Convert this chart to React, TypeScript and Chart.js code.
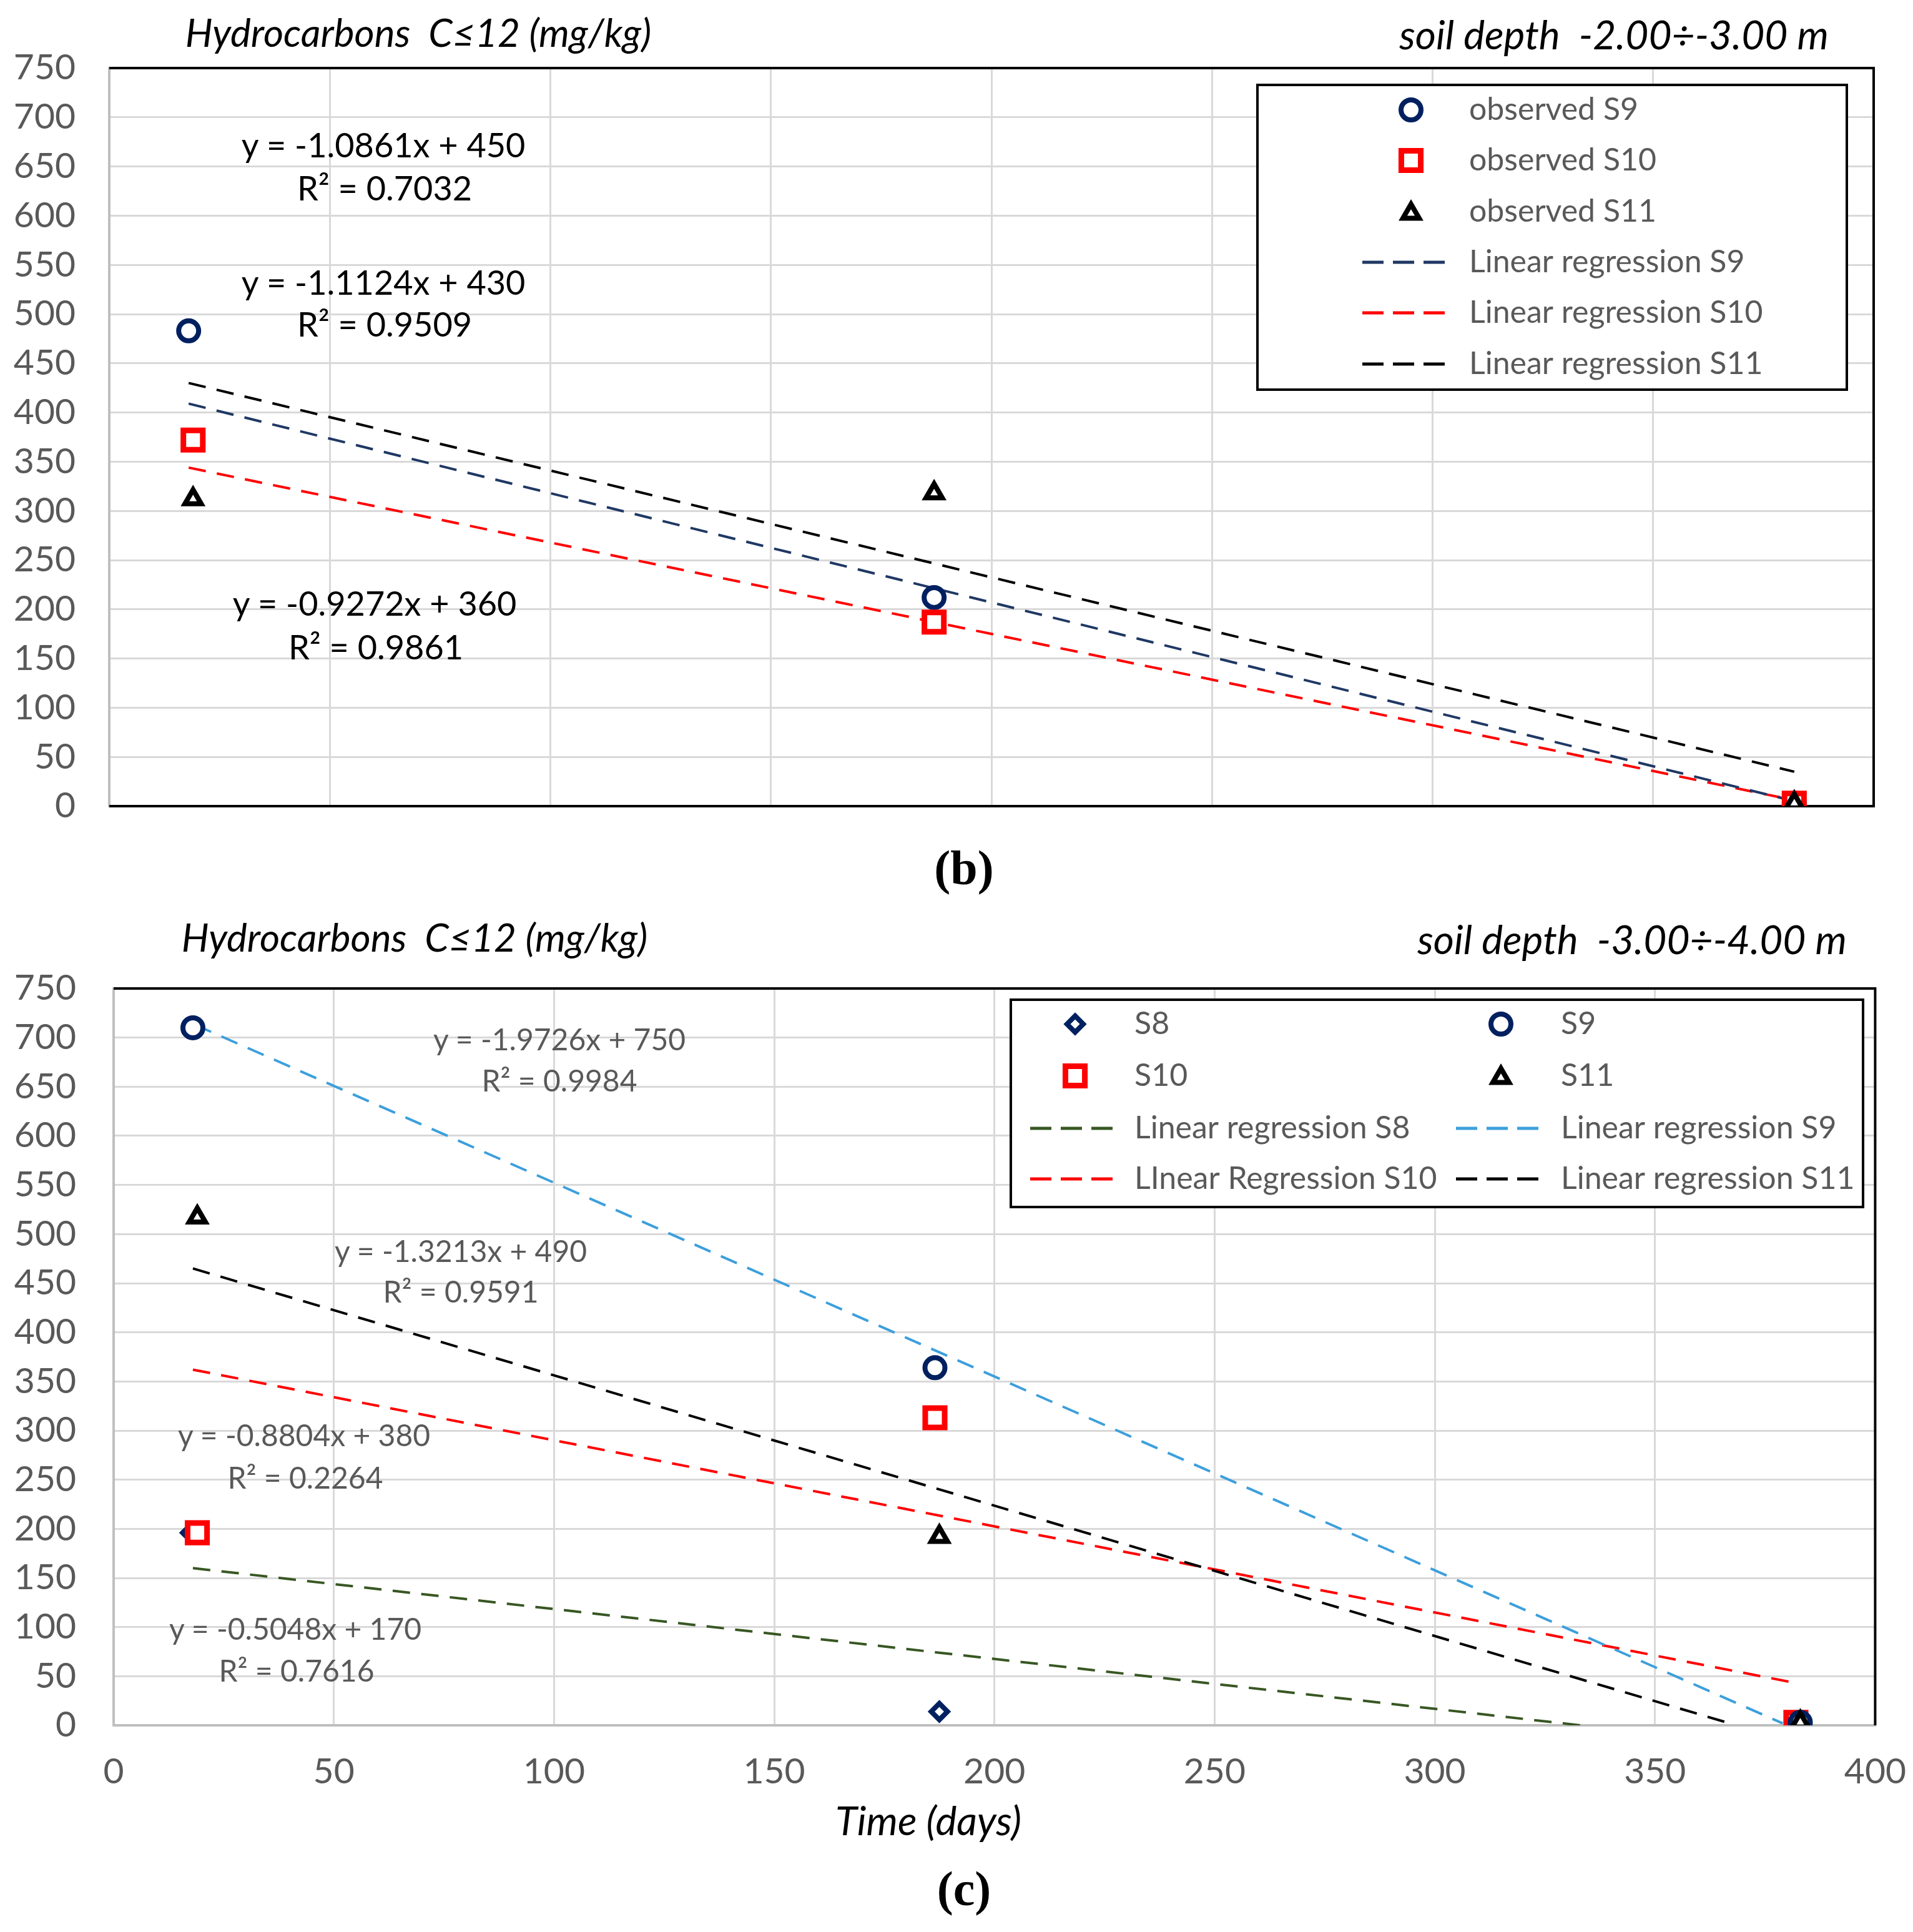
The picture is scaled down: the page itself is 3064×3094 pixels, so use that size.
import React, { useEffect, useRef } from 'react';
import { Chart, registerables } from 'chart.js';

Chart.register(...registerables);

// ---------------- DATA ----------------
// Panel (b): soil depth -2.00 ÷ -3.00 m
const xS9B = [18, 187, 382];
const obsS9B = [483, 212, 3];
const xS10B = [19, 187, 382];
const obsS10B = [372, 187, 3];
const xS11B = [19, 187, 382];
const obsS11B = [312, 318, 3];
const trendXB = [18, 382];
const trendS9B = [409, 5];
const trendS10B = [344, 6];
const trendS11B = [430, 35];

// Panel (c): soil depth -3.00 ÷ -4.00 m
const xS8C = [17.5, 187.5, 383];
const obsS8C = [196, 14, 3];
const xS9C = [18, 186.5, 383];
const obsS9C = [710, 364, 3];
const xS10C = [19, 186.5, 382];
const obsS10C = [196, 313, 3];
const xS11C = [19, 187.5, 383];
const obsS11C = [517, 192, 3];
const trendS8CX = [18, 333];
const trendS8C = [160, 0];
const trendS9CX = [18.5, 379];
const trendS9C = [713, 2];
const trendS10CX = [18, 382];
const trendS10C = [362, 43];
const trendS11CX = [18, 367];
const trendS11C = [465, 2];

const yTicks = [0, 750, 50];
const xTicks = [0, 400, 50];

const eqB = [
  ['y = -1.0861x + 450', 'R\u00B2 = 0.7032'],
  ['y = -1.1124x + 430', 'R\u00B2 = 0.9509'],
  ['y = -0.9272x + 360', 'R\u00B2 = 0.9861'],
];
const eqC = [
  ['y = -1.9726x + 750', 'R\u00B2 = 0.9984'],
  ['y = -1.3213x + 490', 'R\u00B2 = 0.9591'],
  ['y = -0.8804x + 380', 'R\u00B2 = 0.2264'],
  ['y = -0.5048x + 170', 'R\u00B2 = 0.7616'],
];

// ---------------- STYLES ----------------
const FONT = 'Lato, "Open Sans", sans-serif';
const TICK_COLOR = '#595959';
const GRID = '#d9d9d9';
const AXIS_GRAY = '#bfbfbf';
const NAVY = '#002060';
const RED = '#ff0000';
const DARKBLUE_LINE = '#1f3864';
const LIGHTBLUE_LINE = '#3d9fdc';
const GREEN_LINE = '#385723';

type Mk = { style: string; r: number; bw: number; color: string; fill: string };
const MK_S9: Mk = { style: 'circle', r: 16, bw: 8, color: NAVY, fill: '#ffffff' };
const MK_S10: Mk = { style: 'rect', r: 22, bw: 9, color: RED, fill: '#ffffff' };
const MK_S11: Mk = { style: 'triangle', r: 15, bw: 8, color: '#000000', fill: '#ffffff' };
const MK_S8: Mk = { style: 'rectRot', r: 13, bw: 8, color: NAVY, fill: '#ffffff' };

function drawMarker(ctx: CanvasRenderingContext2D, m: Mk, x: number, y: number) {
  ctx.save();
  ctx.beginPath();
  ctx.lineWidth = m.bw;
  ctx.strokeStyle = m.color;
  ctx.fillStyle = m.fill;
  ctx.setLineDash([]);
  const r = m.r;
  if (m.style === 'circle') {
    ctx.arc(x, y, r, 0, Math.PI * 2);
  } else if (m.style === 'rect') {
    const s = r * Math.SQRT1_2;
    ctx.rect(x - s, y - s, 2 * s, 2 * s);
  } else if (m.style === 'triangle') {
    let rad = 0;
    ctx.moveTo(x + Math.sin(rad) * r, y - Math.cos(rad) * r);
    rad += (2 * Math.PI) / 3;
    ctx.lineTo(x + Math.sin(rad) * r, y - Math.cos(rad) * r);
    rad += (2 * Math.PI) / 3;
    ctx.lineTo(x + Math.sin(rad) * r, y - Math.cos(rad) * r);
  } else if (m.style === 'rectRot') {
    ctx.moveTo(x - r, y);
    ctx.lineTo(x, y - r);
    ctx.lineTo(x + r, y);
    ctx.lineTo(x, y + r);
  }
  ctx.closePath();
  ctx.fill();
  ctx.stroke();
  ctx.restore();
}

function drawDash(ctx: CanvasRenderingContext2D, x1: number, x2: number, y: number, color: string) {
  ctx.save();
  ctx.strokeStyle = color;
  ctx.lineWidth = 5;
  ctx.setLineDash([34, 15]);
  ctx.beginPath();
  ctx.moveTo(x1, y);
  ctx.lineTo(x2, y);
  ctx.stroke();
  ctx.restore();
}

function pts(xs: number[], ys: number[], m: Mk) {
  return {
    data: xs.map((x, i) => ({ x, y: ys[i] })),
    showLine: false,
    pointStyle: m.style,
    pointRadius: m.r,
    pointBorderWidth: m.bw,
    pointBorderColor: m.color,
    pointBackgroundColor: m.fill,
    pointHoverRadius: m.r,
  };
}

function trend(xs: number[], ys: number[], color: string) {
  return {
    data: xs.map((x, i) => ({ x, y: ys[i] })),
    showLine: true,
    borderColor: color,
    borderWidth: 4,
    borderDash: [28, 18],
    pointRadius: 0,
    pointHoverRadius: 0,
    fill: false,
  };
}

function framePlugin(bottom: boolean) {
  return {
    id: 'frame',
    beforeDatasetsDraw(chart: any) {
      const { ctx, chartArea: a } = chart;
      ctx.save();
      ctx.strokeStyle = '#000';
      ctx.lineWidth = 4;
      ctx.beginPath();
      ctx.moveTo(a.left, a.top);
      ctx.lineTo(a.right, a.top);
      ctx.lineTo(a.right, a.bottom);
      if (bottom) ctx.lineTo(a.left, a.bottom);
      ctx.stroke();
      ctx.restore();
    },
  };
}

function baseOptions(opts: {
  padTop: number; padRight: number; padBottom: number;
  yWidth: number; yPad: number; xHeight: number; xTicks: boolean; xBorder: string; xPad: number;
}) {
  return {
    animation: false,
    responsive: false,
    maintainAspectRatio: false,
    devicePixelRatio: 1,
    events: [],
    layout: {
      autoPadding: false,
      padding: { top: opts.padTop, right: opts.padRight, bottom: opts.padBottom, left: 0 },
    },
    plugins: { legend: { display: false }, tooltip: { enabled: false } },
    scales: {
      x: {
        type: 'linear',
        min: xTicks[0],
        max: xTicks[1],
        ticks: {
          stepSize: xTicks[2],
          display: opts.xTicks,
          font: { family: FONT, size: 57 },
          color: TICK_COLOR,
          padding: opts.xPad,
          maxRotation: 0,
        },
        grid: { color: GRID, lineWidth: 3, drawTicks: false },
        border: { color: opts.xBorder, width: 4 },
        afterFit(scale: any) {
          scale.height = opts.xHeight;
        },
      },
      y: {
        type: 'linear',
        min: yTicks[0],
        max: yTicks[1],
        ticks: {
          stepSize: yTicks[2],
          font: { family: FONT, size: 57 },
          color: TICK_COLOR,
          padding: opts.yPad,
        },
        grid: { color: GRID, lineWidth: 3, drawTicks: false },
        border: { color: AXIS_GRAY, width: 4 },
        afterFit(scale: any) {
          scale.width = opts.yWidth;
        },
      },
    },
  };
}

// ---------------- PANEL B ----------------
const B_W = 3064;
const B_H = 1420;

const legendBPlugin = {
  id: 'legendB',
  afterDraw(chart: any) {
    const ctx: CanvasRenderingContext2D = chart.ctx;
    const L = 2014, T = 136, R = 2958, Bm = 624;
    ctx.save();
    ctx.fillStyle = '#fff';
    ctx.fillRect(L, T, R - L, Bm - T);
    ctx.strokeStyle = '#000';
    ctx.lineWidth = 4;
    ctx.strokeRect(L, T, R - L, Bm - T);
    const rows = [176, 257, 339, 420, 501, 583];
    const mx = 2260, tx = 2353;
    drawMarker(ctx, MK_S9, mx, rows[0]);
    drawMarker(ctx, MK_S10, mx, rows[1]);
    drawMarker(ctx, MK_S11, mx, rows[2] + 3);
    drawDash(ctx, 2182, 2315, rows[3], DARKBLUE_LINE);
    drawDash(ctx, 2182, 2315, rows[4], RED);
    drawDash(ctx, 2182, 2315, rows[5], '#000');
    const labels = ['observed S9', 'observed S10', 'observed S11', 'Linear regression S9', 'Linear regression S10', 'Linear regression S11'];
    ctx.fillStyle = TICK_COLOR;
    ctx.font = `50px ${FONT}`;
    ctx.textBaseline = 'middle';
    ctx.textAlign = 'left';
    labels.forEach((t, i) => ctx.fillText(t, tx, rows[i]));
    ctx.restore();
  },
};

function PanelB() {
  const ref = useRef<HTMLCanvasElement>(null);
  useEffect(() => {
    const chart = new Chart(ref.current as HTMLCanvasElement, {
      type: 'scatter',
      data: {
        datasets: [
          pts(xS11B, obsS11B, MK_S11),
          pts(xS10B, obsS10B, MK_S10),
          pts(xS9B, obsS9B, MK_S9),
          trend(trendXB, trendS9B, DARKBLUE_LINE),
          trend(trendXB, trendS10B, RED),
          trend(trendXB, trendS11B, '#000000'),
        ] as any,
      },
      options: baseOptions({
        padTop: 109, padRight: 63, padBottom: 0,
        yWidth: 175, yPad: 54, xHeight: B_H - 1291, xTicks: false, xBorder: '#000000', xPad: 0,
      }) as any,
      plugins: [framePlugin(true), legendBPlugin],
    });
    return () => chart.destroy();
  }, []);
  return (
    <canvas
      ref={ref}
      width={B_W}
      height={B_H}
      style={{ position: 'absolute', left: 0, top: 0, width: B_W, height: B_H }}
    />
  );
}

// ---------------- PANEL C ----------------
const C_TOP = 1440;
const C_W = 3093;
const C_H = 1600;

const legendCPlugin = {
  id: 'legendC',
  afterDraw(chart: any) {
    const ctx: CanvasRenderingContext2D = chart.ctx;
    const L = 1619, T = 1601 - C_TOP, R = 2984, Bm = 1933 - C_TOP;
    ctx.save();
    ctx.fillStyle = '#fff';
    ctx.fillRect(L, T, R - L, Bm - T);
    ctx.strokeStyle = '#000';
    ctx.lineWidth = 4;
    ctx.strokeRect(L, T, R - L, Bm - T);
    const rows = [1640, 1723, 1807, 1888].map((v) => v - C_TOP);
    const m1 = 1722, t1 = 1817, m2 = 2404, t2 = 2500;
    drawMarker(ctx, MK_S8, m1, rows[0]);
    drawMarker(ctx, MK_S9, m2, rows[0]);
    drawMarker(ctx, MK_S10, m1, rows[1]);
    drawMarker(ctx, MK_S11, m2, rows[1] + 3);
    drawDash(ctx, 1650, 1783, rows[2], GREEN_LINE);
    drawDash(ctx, 2332, 2465, rows[2], LIGHTBLUE_LINE);
    drawDash(ctx, 1650, 1783, rows[3], RED);
    drawDash(ctx, 2332, 2465, rows[3], '#000');
    ctx.fillStyle = TICK_COLOR;
    ctx.font = `50px ${FONT}`;
    ctx.textBaseline = 'middle';
    ctx.textAlign = 'left';
    ctx.fillText('S8', t1, rows[0]);
    ctx.fillText('S9', t2, rows[0]);
    ctx.fillText('S10', t1, rows[1]);
    ctx.fillText('S11', t2, rows[1]);
    ctx.fillText('Linear regression S8', t1, rows[2]);
    ctx.fillText('Linear regression S9', t2, rows[2]);
    ctx.fillText('LInear Regression S10', t1, rows[3]);
    ctx.fillText('Linear regression S11', t2, rows[3]);
    ctx.restore();
  },
};

function PanelC() {
  const ref = useRef<HTMLCanvasElement>(null);
  useEffect(() => {
    const chart = new Chart(ref.current as HTMLCanvasElement, {
      type: 'scatter',
      data: {
        datasets: [
          pts(xS11C, obsS11C, MK_S11),
          pts(xS9C, obsS9C, MK_S9),
          pts(xS10C, obsS10C, MK_S10),
          pts(xS8C, obsS8C, MK_S8),
          trend(trendS9CX, trendS9C, LIGHTBLUE_LINE),
          trend(trendS11CX, trendS11C, '#000000'),
          trend(trendS10CX, trendS10C, RED),
          trend(trendS8CX, trendS8C, GREEN_LINE),
        ] as any,
      },
      options: baseOptions({
        padTop: 1583 - C_TOP, padRight: 40, padBottom: 0,
        yWidth: 182, yPad: 60, xHeight: C_H - (2763 - C_TOP), xTicks: true, xBorder: AXIS_GRAY, xPad: 40,
      }) as any,
      plugins: [framePlugin(false), legendCPlugin],
    });
    return () => chart.destroy();
  }, []);
  return (
    <canvas
      ref={ref}
      width={C_W}
      height={C_H}
      style={{ position: 'absolute', left: 0, top: C_TOP, width: C_W, height: C_H }}
    />
  );
}

// ---------------- TEXT OVERLAYS ----------------
function Label(props: { x: number; y: number; text: string; size: number; color?: string; italic?: boolean; bold?: boolean; family?: string }) {
  return (
    <div
      style={{
        position: 'absolute',
        left: props.x,
        top: props.y,
        transform: 'translate(-50%, -50%)',
        fontFamily: props.family || FONT,
        fontSize: props.size,
        fontStyle: props.italic ? 'italic' : 'normal',
        fontWeight: props.bold ? 'bold' : 'normal',
        color: props.color || '#000',
        whiteSpace: 'pre',
        lineHeight: 1,
      }}
    >
      {props.text}
    </div>
  );
}

const eqBPos = [
  [614, 232, 616, 301],
  [614, 452, 616, 519],
  [600, 966, 602, 1036],
];
const eqCPos = [
  [896, 1664, 896, 1730],
  [738, 2003, 738, 2068],
  [487, 2298, 489, 2366],
  [473, 2608, 475, 2675],
];

export default function App() {
  return (
    <div
      style={{
        position: 'absolute',
        left: 0,
        top: 0,
        width: 3064,
        height: 3094,
        background: '#ffffff',
        overflow: 'hidden',
      }}
    >
      <PanelB />
      <PanelC />
      <Label x={670} y={51} text={'Hydrocarbons  C\u226412 (mg/kg)'} size={62} italic />
      <Label x={2585} y={55} text={'soil depth  -2.00\u00F7-3.00 m'} size={64} italic />
      <Label x={664} y={1500} text={'Hydrocarbons  C\u226412 (mg/kg)'} size={62} italic />
      <Label x={2614} y={1504} text={'soil depth  -3.00\u00F7-4.00 m'} size={64} italic />
      {eqB.map((e, i) => (
        <React.Fragment key={'b' + i}>
          <Label x={eqBPos[i][0]} y={eqBPos[i][1]} text={e[0]} size={54} />
          <Label x={eqBPos[i][2]} y={eqBPos[i][3]} text={e[1]} size={54} />
        </React.Fragment>
      ))}
      {eqC.map((e, i) => (
        <React.Fragment key={'c' + i}>
          <Label x={eqCPos[i][0]} y={eqCPos[i][1]} text={e[0]} size={48} color={TICK_COLOR} />
          <Label x={eqCPos[i][2]} y={eqCPos[i][3]} text={e[1]} size={48} color={TICK_COLOR} />
        </React.Fragment>
      ))}
      <Label x={1487} y={2915} text={'Time (days)'} size={64} italic />
      <Label x={1544} y={1390} text={'(b)'} size={78} bold family={'"Liberation Serif", "DejaVu Serif", serif'} />
      <Label x={1544} y={3025} text={'(c)'} size={78} bold family={'"Liberation Serif", "DejaVu Serif", serif'} />
    </div>
  );
}
